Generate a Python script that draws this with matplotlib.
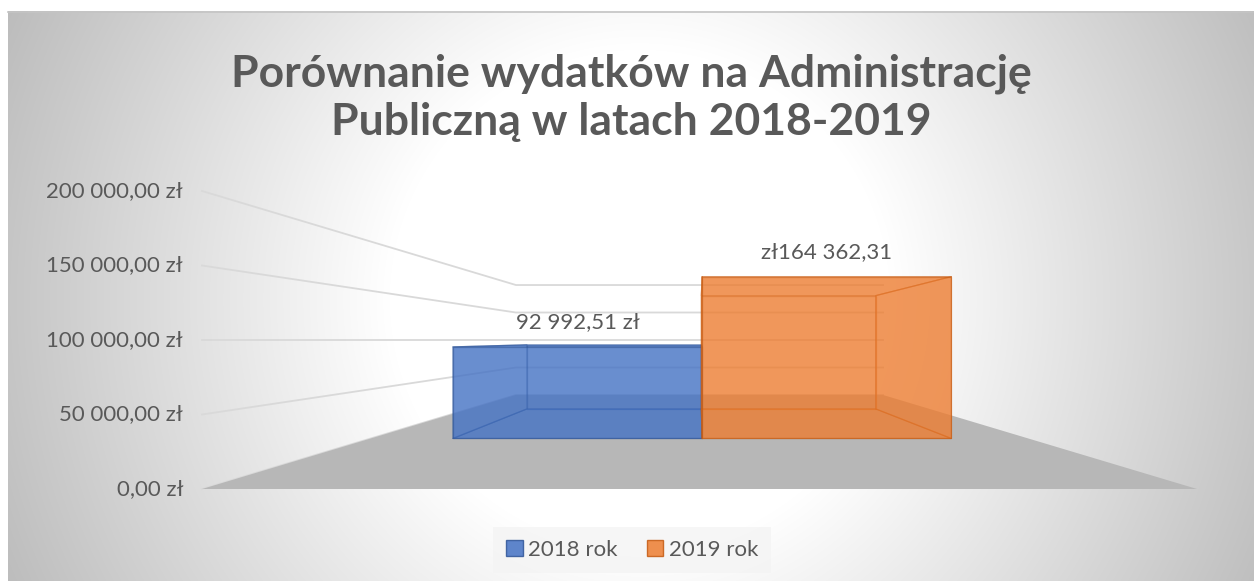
import numpy as np
import matplotlib
matplotlib.use('Agg')
import matplotlib.pyplot as plt
from matplotlib.patches import Patch
from mpl_toolkits.mplot3d.art3d import Poly3DCollection

# ---------------- data ----------------
title = 'Porównanie wydatków na Administrację\nPubliczną w latach 2018-2019'
series_names = ['2018 rok', '2019 rok']
values = [92992.51, 164362.31]
value_labels = ['92 992,51 zł', 'zł164 362,31']
tick_values = [0, 50000, 100000, 150000, 200000]
tick_labels = ['0,00 zł', '50 000,00 zł', '100 000,00 zł', '150 000,00 zł', '200 000,00 zł']
z_max = 200000

# ---------------- style ----------------
colors = ['#4472C4', '#ED7D31']
edge_colors = ['#2F5597', '#C55A11']
text_color = '#595959'
grid_color = '#d9d9d9'
floor_color = '#b7b7b7'
plt.rcParams['font.family'] = ['Lato', 'DejaVu Sans']
label_fs = 16

W, H, DPI = 1254, 581, 100
fig = plt.figure(figsize=(W / DPI, H / DPI), dpi=DPI)
fig.patch.set_facecolor('white')

# background radial gradient
bg = fig.add_axes([0, 0, 1, 1], zorder=-10)
bg.set_xlim(0, W); bg.set_ylim(H, 0); bg.axis('off')
xx, yy = np.meshgrid(np.arange(W) + 0.5, np.arange(H) + 0.5)
d = np.hypot(xx - 640, yy - 300)
t = np.clip((d - 250) / (683 - 250), 0, 1.3)
g = (255 - 65 * t) / 255
img = np.dstack([g, g, g])
img[(yy < 11) | (xx < 8)] = 1
bg.imshow(img, extent=[0, W, H, 0], interpolation='bilinear', aspect='auto')
bg.plot([8, W], [11.5, 11.5], color='#c4c4c4', lw=1.2)

# ---------------- 3D chart ----------------
ax = fig.add_axes([0, 0, 1, 1], projection='3d')
ax.computed_zorder = False
ax.set_axis_off()
ax.patch.set_alpha(0)

# floor
floor = Poly3DCollection([[(0, 0, 0), (1, 0, 0), (1, 1, 0), (0, 1, 0)]],
                         facecolor=floor_color, edgecolor='none')
floor.set_zorder(1.5)
ax.add_collection3d(floor)

# gridlines on side wall and back wall
for v in tick_values:
    ax.plot([0, 0, 1], [0, 1, 1], [v, v, v], color=grid_color, lw=1.3, zorder=1)

# bars
n = len(values)
group_width = 0.758
group_center = 0.504
bar_w = group_width / n
depth0, depth1 = 0.30, 0.68
bar_left = [group_center - group_width / 2 + i * bar_w for i in range(n)]
for i in range(n):
    ax.bar3d(bar_left[i], depth0, 0, bar_w, depth1 - depth0, values[i],
             color=colors[i], alpha=0.55, edgecolor=edge_colors[i],
             linewidth=0.9, shade=False, zorder=3)

for art in list(ax.collections) + list(ax.lines):
    art.set_clip_on(False)

ax.set_xlim(0, 1); ax.set_ylim(0, 1); ax.set_zlim(0, z_max)
ax.view_init(elev=0, azim=-90)


def project(xs, ys, zs, M):
    xs = np.atleast_1d(np.asarray(xs, float))
    ys = np.atleast_1d(np.asarray(ys, float))
    zs = np.atleast_1d(np.asarray(zs, float))
    vec = np.vstack([xs, ys, zs, np.ones_like(xs)])
    r = M @ vec
    return r[0] / r[3], r[1] / r[3]


target_ratio = 0.369           # back-wall scale / front scale
front_w, front_h = 995.0, 298.0
x_left_px, y_bottom_px = 202.0, 581 - 489.0
aspect = np.array([front_w, 600.0, front_h])

fig.canvas.draw()
for _ in range(4):
    ax.set_box_aspect(aspect)

    def ratio(f):
        ax.set_proj_type('persp', focal_length=f)
        M = ax.get_proj()
        px, _ = project([0, 1, 0, 1], [0, 0, 1, 1], [0, 0, 0, 0], M)
        return (px[3] - px[2]) / (px[1] - px[0])

    lo, hi = 0.005, 10.0
    for _ in range(60):
        mid = np.sqrt(lo * hi)
        if ratio(mid) < target_ratio:
            lo = mid
        else:
            hi = mid
    ax.set_proj_type('persp', focal_length=np.sqrt(lo * hi))
    M = ax.get_proj()
    px, py = project([0, 1, 0], [0, 0, 0], [0, 0, z_max], M)
    nrm = ax.transLimits.transform(np.column_stack([px, py]))
    Wd = front_w / (nrm[1, 0] - nrm[0, 0])
    Hd = front_h / (nrm[2, 1] - nrm[0, 1])
    aspect[2] *= Hd / Wd

x0 = x_left_px - nrm[0, 0] * Wd
y0 = y_bottom_px - nrm[0, 1] * Wd
ax.set_position([x0 / W, y0 / H, Wd / W, Wd / H])
M = ax.get_proj()

# axis tick labels
for v, lab in zip(tick_values, tick_labels):
    px, py = project([0], [0], [v], M)
    ax.annotate(lab, xy=(px[0], py[0]), xycoords='data', xytext=(-19, 0),
                textcoords='offset pixels', ha='right', va='center',
                fontsize=label_fs, color=text_color, annotation_clip=False)

# data labels
for i in range(n):
    px, py = project([bar_left[i] + bar_w / 2], [depth0], [values[i]], M)
    ax.annotate(value_labels[i], xy=(px[0], py[0]), xycoords='data',
                xytext=(0, 25), textcoords='offset pixels', ha='center',
                va='center', fontsize=label_fs, color=text_color,
                annotation_clip=False)

# title
fig.text(631 / W, 1 - 98 / H, title, ha='center', va='center', fontsize=32,
         fontweight='bold', color=text_color, linespacing=1.25)

# legend
handles = [Patch(facecolor=c, edgecolor=ec, alpha=0.85, label=s)
           for c, ec, s in zip(colors, edge_colors, series_names)]
leg = fig.legend(handles=handles, loc='center', bbox_to_anchor=(632 / W, 1 - 550 / H),
                 ncol=2, fontsize=label_fs, frameon=True, fancybox=False,
                 handlelength=0.75, handleheight=0.75, handletextpad=0.25,
                 columnspacing=1.3, borderpad=0.6)
leg.get_frame().set_facecolor('#f4f4f4')
leg.get_frame().set_edgecolor('none')
for txt in leg.get_texts():
    txt.set_color(text_color)

fig.savefig('out.png', dpi=DPI)
